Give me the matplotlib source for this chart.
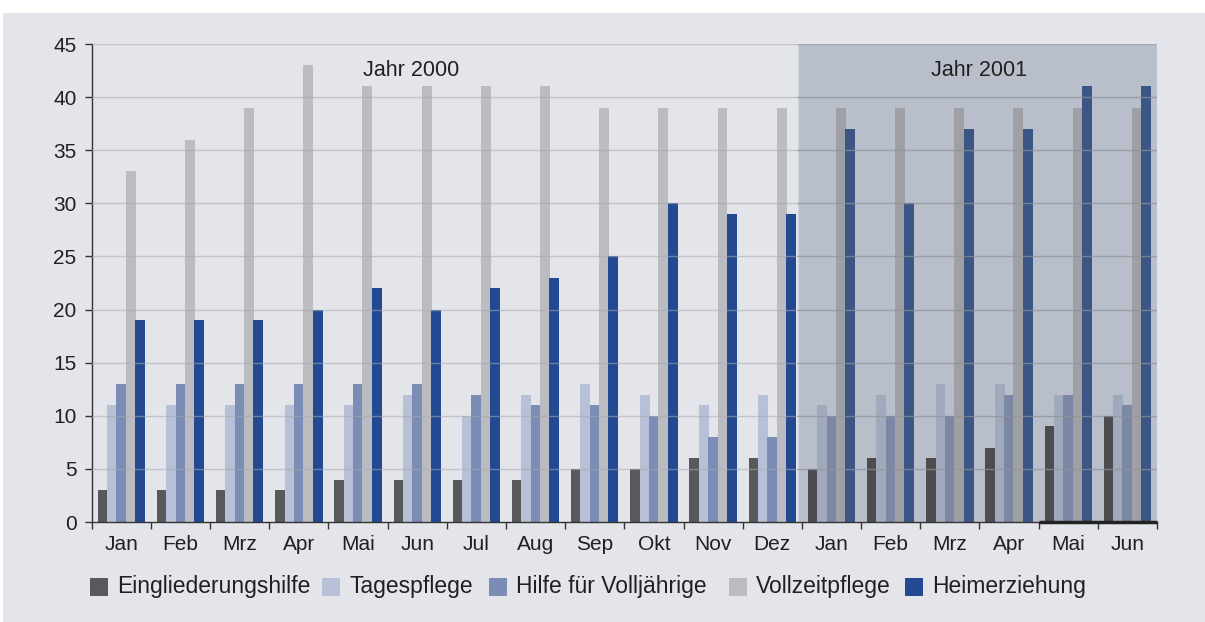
import matplotlib
matplotlib.use("Agg")
import matplotlib.pyplot as plt
from matplotlib.patches import Rectangle
import numpy as np

months = ["Jan", "Feb", "Mrz", "Apr", "Mai", "Jun", "Jul", "Aug", "Sep", "Okt", "Nov", "Dez",
          "Jan", "Feb", "Mrz", "Apr", "Mai", "Jun"]
series_names = ["Eingliederungshilfe", "Tagespflege", "Hilfe für Volljährige",
                "Vollzeitpflege", "Heimerziehung"]
eingliederungshilfe = [3, 3, 3, 3, 4, 4, 4, 4, 5, 5, 6, 6, 5, 6, 6, 7, 9, 10]
tagespflege = [11, 11, 11, 11, 11, 12, 10, 12, 13, 12, 11, 12, 11, 12, 13, 13, 12, 12]
hilfe_volljaehrige = [13, 13, 13, 13, 13, 13, 12, 11, 11, 10, 8, 8, 10, 10, 10, 12, 12, 11]
vollzeitpflege = [33, 36, 39, 43, 41, 41, 41, 41, 39, 39, 39, 39, 39, 39, 39, 39, 39, 39]
heimerziehung = [19, 19, 19, 20, 22, 20, 22, 23, 25, 30, 29, 29, 37, 30, 37, 37, 41, 41]
year_labels = ["Jahr 2000", "Jahr 2001"]

series = [eingliederungshilfe, tagespflege, hilfe_volljaehrige, vollzeitpflege, heimerziehung]
colors = ["#58595b", "#b7c0d6", "#7b8db5", "#bbbcc1", "#234a91"]
colors_2001 = ["#4d4d50", "#a1aabd", "#7b87a3", "#9fa0a5", "#3b5685"]

plt.rcParams['font.family'] = ['Liberation Sans', 'DejaVu Sans']
W, H = 1205, 622
FS = 15

fig = plt.figure(figsize=(W / 100, H / 100), dpi=100)
fig.patch.set_facecolor("white")
panel = Rectangle((3 / W, 0), 1 - 3 / W, 1 - 13 / H, transform=fig.transFigure,
                  facecolor="#e4e5ea", edgecolor="none", zorder=-10)
fig.patches.append(panel)

ax = fig.add_axes([91.7 / W, 1 - 522 / H, (1157 - 91.7) / W, (522 - 44) / H])
ax.set_zorder(1)
ax.set_facecolor("#e4e5ea")

n = len(months)
x = np.arange(n)
split = 12
ax.axvspan(split - 0.56, n - 0.5, ymin=0, ymax=1, facecolor="#b8bfca",
           edgecolor="#d0d4dc", lw=1.0, zorder=0.5)

step = 0.158
width = 0.168
zorders = [2, 2.1, 2.2, 2.4, 2.5]
for i, (vals, c1, c2) in enumerate(zip(series, colors, colors_2001)):
    off = (i - 2) * step
    cols = [c1 if k < split else c2 for k in range(n)]
    ax.bar(x + off, vals, width=width, color=cols, zorder=zorders[i], linewidth=0)

# gridlines
for yv in range(5, 50, 5):
    ax.plot([-0.5, split - 0.56], [yv, yv], color="#a8a9ae", lw=1.0, alpha=0.55, zorder=6)
    ax.plot([split - 0.56, n - 0.5], [yv, yv], color="#8e9299", lw=1.0, alpha=0.7, zorder=6)

ax.set_xlim(-0.5, n - 0.5)
ax.set_ylim(0, 45)
ax.set_yticks(range(0, 50, 5))
ax.set_xticks(x)
ax.set_xticklabels(months)
ax.set_xticks(np.arange(-0.5, n, 1.0), minor=True)
ax.tick_params(axis="x", which="major", length=0, pad=9, labelsize=FS, colors="#231f20")
ax.tick_params(axis="x", which="minor", length=5, width=1.0, color="#333333")
ax.tick_params(axis="y", length=5, width=1.0, color="#333333", labelsize=FS, pad=6,
               labelcolor="#231f20")
for s in ["top", "right"]:
    ax.spines[s].set_visible(False)
ax.spines["left"].set_color("#333333")
ax.spines["bottom"].set_color("#333333")
ax.spines["left"].set_linewidth(1.0)
ax.spines["bottom"].set_linewidth(1.0)
ax.plot([15.5, 17.5], [0, 0], color="#222222", lw=2.5, zorder=7, clip_on=False, solid_capstyle="butt")

ax.text(4.9, 42.5, year_labels[0], ha="center", va="center", fontsize=FS + 0.5, color="#231f20", zorder=8)
ax.text(14.5, 42.5, year_labels[1], ha="center", va="center", fontsize=FS + 0.5, color="#231f20", zorder=8)

# legend (manual placement)
sq_x = [90, 322, 489, 729, 905]
ly = 587
for sx, c, name in zip(sq_x, colors, series_names):
    fig.patches.append(Rectangle((sx / W, 1 - (ly + 9) / H), 18 / W, 18 / H,
                                 transform=fig.transFigure, facecolor=c, edgecolor="none", zorder=3))
    fig.text((sx + 27) / W, 1 - ly / H, name, ha="left", va="center", fontsize=16.5,
             color="#231f20", zorder=3)

fig.savefig("out.png", dpi=100, facecolor=fig.get_facecolor())
